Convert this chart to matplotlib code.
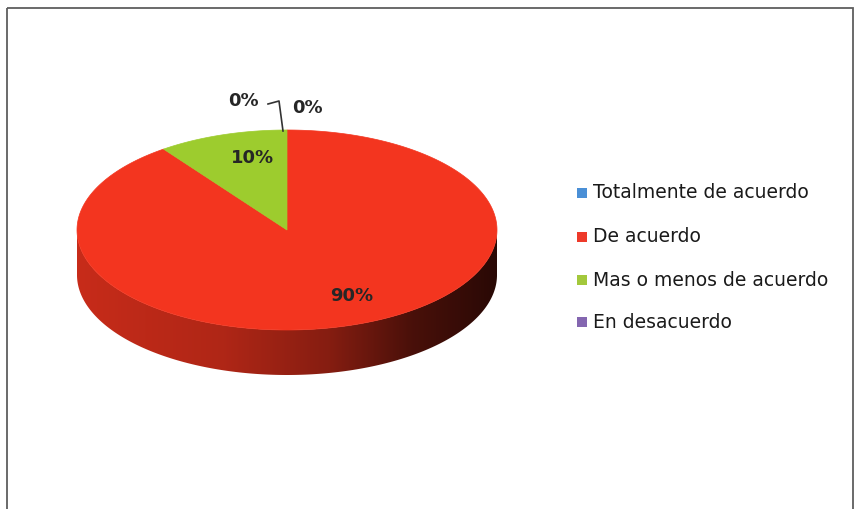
import numpy as np
import matplotlib
matplotlib.use("Agg")
import matplotlib.pyplot as plt
from matplotlib.patches import Polygon, Rectangle
from matplotlib.colors import to_rgb

# data
categories = ["Totalmente de acuerdo", "De acuerdo",
              "Mas o menos de acuerdo", "En desacuerdo"]
values = [0, 90, 10, 0]
colors = ["#4a8fd6", "#f3351f", "#9dcc2e", "#8466b0"]
legend_colors = ["#4a8fd6", "#ee3a2a", "#a3c83c", "#8466b0"]

# layout (pixels)
W, H = 856, 509
cx, cy = 287, 230
rx, ry = 210, 100
depth = 45

fig = plt.figure(figsize=(W / 100, H / 100), dpi=100)
ax = fig.add_axes([0, 0, 1, 1])

# chart frame
ax.add_patch(Rectangle((7, 8), 846, 520, fill=False, ec="#5e5e5e", lw=1.3))


def edge(t):
    return cx + rx * np.cos(t), cy - ry * np.sin(t)


# slice angles: start at 12 o'clock, go clockwise
total = float(sum(values))
angles = []
a = 90.0
for v in values:
    a2 = a - 360.0 * v / total
    angles.append((a2, a))
    a = a2

# shading profile of the side wall, left -> right
shade_x = np.linspace(0, 1, 400)
shade = np.interp(shade_x, [0, 0.35, 0.6, 0.8, 1.0],
                  [0.82, 0.72, 0.55, 0.3, 0.17])

# side wall (front half only)
for i, (a0, a1) in enumerate(angles):
    if values[i] == 0:
        continue
    for k in range(-1, 1):
        lo = max(a0, 180 + 360 * k)
        hi = min(a1, 360 + 360 * k)
        if hi <= lo:
            continue
        ts = np.radians(np.linspace(lo, hi, 200))
        xs, ys = edge(ts)
        pts = list(zip(xs, ys)) + list(zip(xs[::-1], ys[::-1] + depth))
        clip = Polygon(pts, closed=True, fc="none", ec="none")
        ax.add_patch(clip)
        img = np.array(to_rgb(colors[i]))[None, None, :] * shade[None, :, None]
        im = ax.imshow(img, extent=(cx - rx, cx + rx, cy + ry + depth, cy - ry),
                       aspect="auto", interpolation="bilinear", zorder=1)
        im.set_clip_path(clip)

# top face
for i, (a0, a1) in enumerate(angles):
    if values[i] == 0:
        continue
    ts = np.radians(np.linspace(a0, a1, 300))
    xs, ys = edge(ts)
    pts = [(cx, cy)] + list(zip(xs, ys))
    ax.add_patch(Polygon(pts, closed=True, fc=colors[i], ec=colors[i],
                         lw=0.5, zorder=2))

# data labels
label_pos = [(243, 101), (352, 296), (253, 158), (307, 108)]
for i, v in enumerate(values):
    x, y = label_pos[i]
    ax.text(x, y, f"{v}%", ha="center", va="center", fontsize=13,
            fontweight="bold", color="#262626", zorder=3)

# leader lines for the zero slices
ax.plot([268, 279, 283], [104, 101, 131], color="#333333", lw=1.2, zorder=3)

# legend
leg_y = [193, 237, 280, 322]
for i, name in enumerate(categories):
    ax.add_patch(Rectangle((577, leg_y[i] - 5), 10, 10, fc=legend_colors[i],
                           ec="none"))
    ax.text(593, leg_y[i], name, ha="left", va="center", fontsize=13.5,
            color="#1a1a1a")

ax.set_xlim(0, W)
ax.set_ylim(H, 0)
ax.axis("off")

fig.savefig("out.png", dpi=100)
